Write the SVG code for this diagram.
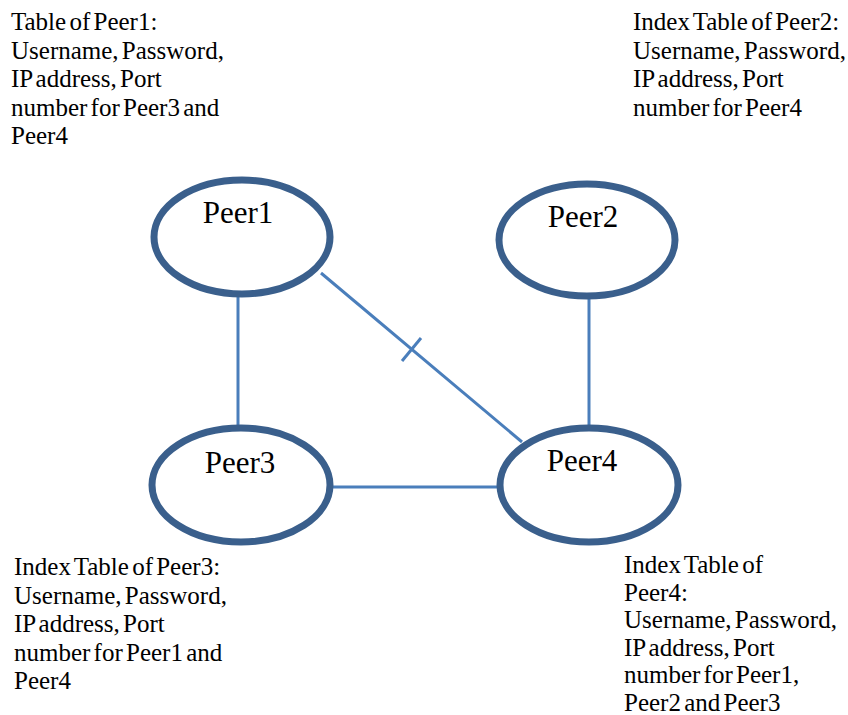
<svg xmlns="http://www.w3.org/2000/svg" width="848" height="715" viewBox="0 0 848 715">
<style>
.t{font-family:'Liberation Serif','DejaVu Serif',serif;font-size:25px;word-spacing:-3px;fill:#000}
.p{font-family:'Liberation Serif','DejaVu Serif',serif;font-size:31px;fill:#000;text-anchor:middle}
.n{fill:#fff;stroke:#3a5f8c;stroke-width:7}
.c{stroke:#4a7ebb;stroke-width:3;fill:none}
</style>
<rect width="848" height="715" fill="#fff"/>
<g id="connectors">
<line class="c" x1="238" y1="294" x2="238" y2="427"/>
<line class="c" x1="589" y1="294" x2="589" y2="427"/>
<line class="c" x1="333" y1="487" x2="498" y2="487"/>
<line class="c" x1="321" y1="273" x2="522" y2="442"/>
<line class="c" x1="402" y1="361" x2="421" y2="338"/>
</g>
<g id="peer1"><ellipse class="n" cx="242" cy="237" rx="88" ry="57"/><text class="p" x="238" y="223">Peer1</text></g>
<g id="peer2"><ellipse class="n" cx="587" cy="240" rx="88" ry="56"/><text class="p" x="583" y="227">Peer2</text></g>
<g id="peer3"><ellipse class="n" cx="241" cy="485" rx="89" ry="57"/><text class="p" x="240" y="473">Peer3</text></g>
<g id="peer4"><ellipse class="n" cx="589" cy="485" rx="89" ry="57"/><text class="p" x="582" y="471">Peer4</text></g>
<g id="table1"><text class="t" x="11" y="30">Table of Peer1:<tspan x="11" y="58.5">Username, Password,</tspan><tspan x="11" y="87">IP address, Port</tspan><tspan x="11" y="115.5">number for Peer3 and</tspan><tspan x="11" y="144">Peer4</tspan></text></g>
<g id="table2"><text class="t" x="633" y="30">Index Table of Peer2:<tspan x="633" y="58.5">Username, Password,</tspan><tspan x="633" y="87">IP address, Port</tspan><tspan x="633" y="115.5">number for Peer4</tspan></text></g>
<g id="table3"><text class="t" x="14" y="575">Index Table of Peer3:<tspan x="14" y="603.5">Username, Password,</tspan><tspan x="14" y="632">IP address, Port</tspan><tspan x="14" y="660.5">number for Peer1 and</tspan><tspan x="14" y="689">Peer4</tspan></text></g>
<g id="table4"><text class="t" x="624" y="573">Index Table of<tspan x="624" y="600.5">Peer4:</tspan><tspan x="624" y="628">Username, Password,</tspan><tspan x="624" y="655.5">IP address, Port</tspan><tspan x="624" y="683">number for Peer1,</tspan><tspan x="624" y="710.5">Peer2 and Peer3</tspan></text></g>
</svg>
